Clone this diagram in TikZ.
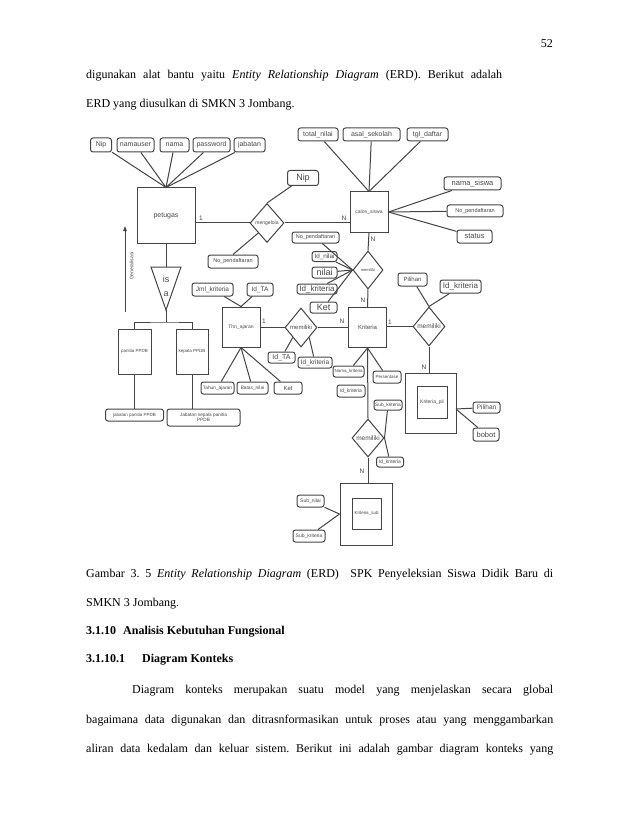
\documentclass[tikz,border=0pt]{standalone}
\usepackage{fontspec}
\setmainfont{Liberation Serif}
\newfontfamily\dg{Liberation Sans}
\usetikzlibrary{shapes.geometric,arrows.meta}
\definecolor{lc}{HTML}{444444}
\definecolor{tc}{HTML}{484848}
\newcommand\fsz[1]{\fontsize{#1}{#1}\selectfont}
\newcommand\bodyfs{\fontsize{12}{14}\selectfont\frenchspacing}
\newcommand\attrnode[6]{\node[attr,minimum width=#4pt,minimum height=#5pt,font={\dg\fsz{#6}}] (#1) at (#2) {#3};}
\tikzset{
  ln/.style={draw=lc, line width=1pt},
  attr/.style={draw=lc, line width=1pt, rounded corners=2.5pt, inner sep=0pt, text=tc, align=center},
  ent/.style={draw=lc, line width=1pt, inner sep=0pt, text=tc, align=center},
  rel/.style={diamond, draw=lc, line width=1pt, inner sep=0pt, text=tc},
  card/.style={inner sep=0pt, text=lc, font={\dg\fsz{6.5}}},
  body/.style={inner sep=0pt, font=\bodyfs, anchor=base west},
}
\begin{document}
\frenchspacing
\begin{tikzpicture}[x=1pt,y=-1pt]
\useasboundingbox (0,0) rectangle (638,826);
\fill[white] (0,0) rectangle (638,826);

% ---------- body text ----------
\node[body,anchor=base east] (pg) at (553,48) {52};
\node[body] (l1) at (86,79) {\makebox[416pt][s]{digunakan alat bantu yaitu \textit{Entity Relationship Diagram} (ERD). Berikut adalah}};
\node[body] (l2) at (86,108) {ERD yang diusulkan di SMKN 3 Jombang.};
\node[body] (c1) at (86,577) {\makebox[467pt][s]{Gambar 3. 5 \textit{Entity Relationship Diagram} (ERD)\ \ SPK Penyeleksian Siswa Didik Baru di}};
\node[body] (c2) at (86,606) {SMKN 3 Jombang.};
\node[body] (h1) at (86,634) {\textbf{3.1.10\hspace{7pt}Analisis Kebutuhan Fungsional}};
\node[body] (h2) at (86,662) {\textbf{3.1.10.1\hspace{17pt}Diagram Konteks}};
\node[body] (p1) at (132,693) {\makebox[421pt][s]{Diagram konteks merupakan suatu model yang menjelaskan secara global}};
\node[body] (p2) at (86,723) {\makebox[467pt][s]{bagaimana data digunakan dan ditrasnformasikan untuk proses atau yang menggambarkan}};
\node[body] (p3) at (86,752) {\makebox[467pt][s]{aliran data kedalam dan keluar sistem. Berikut ini adalah gambar diagram konteks yang}};

% ---------- petugas ----------
\node[ent,minimum width=58pt,minimum height=55pt,font={\dg\fsz{7}}] (pet) at (166,215.5) {petugas};
\attrnode{a1}{101,145}{Nip}{21}{14}{7}
\attrnode{a2}{135.5,145}{namauser}{37}{14}{7}
\attrnode{a3}{174.5,145}{nama}{29}{14}{7}
\attrnode{a4}{211.5,145}{password}{37}{14}{7}
\attrnode{a5}{249.5,145}{jabatan}{31}{14}{7}
\foreach \a in {a1,a2,a3,a4,a5} \draw[ln] (\a) -- (pet.north);

% ---------- mengelola ----------
\node[rel,minimum width=34pt,minimum height=39pt,font={\dg\fsz{5}}] (mg) at (267,223) {mengelola};
\attrnode{nip2}{303,178}{Nip}{31}{15}{9}
\attrnode{np1}{233,261.5}{No\_pendaftaran}{50}{13}{5.5}
\draw[ln] (mg.north) -- (nip2);
\draw[ln] (mg.south west) -- (np1.north);

% ---------- calon_siswa ----------
\node[ent,minimum width=38pt,minimum height=40pt,font={\dg\fsz{5}}] (cs) at (369,212) {calon\_siswa};
\attrnode{tn}{318,134.5}{total\_nilai}{40}{13}{7}
\attrnode{as}{371.5,134.5}{asal\_sekolah}{57}{13}{7}
\attrnode{tg}{427.5,134.5}{tgl\_daftar}{41}{13}{7}
\foreach \a in {tn,as,tg} \draw[ln] (\a) -- (cs.north);
\attrnode{ns}{472.5,183.5}{nama\_siswa}{57}{13}{7.5}
\attrnode{np2}{475,211}{No\_pendaftaran}{56}{12}{5.5}
\attrnode{st}{474.5,236.5}{status}{35}{13}{7.5}
\foreach \a in {ns,np2,st} \draw[ln] (cs.east) -- (\a);

\draw[ln] (pet.east |- mg.west) -- (mg.west);
\draw[ln] (mg.east) -- (cs.west |- mg.east);
\node[card] (c1a) at (201,218) {1};
\node[card] (c1b) at (344,218) {N};

% ---------- memiliki 1 ----------
\node[rel,minimum width=30pt,minimum height=38pt,font={\dg\fsz{4}}] (m1) at (368,270) {memiliki};
\attrnode{np3}{315.5,237.5}{No\_pendaftaran}{47}{11}{5.5}
\attrnode{idn}{324.5,256.5}{Id\_nilai}{25}{10}{6.3}
\attrnode{nil}{324.5,272.5}{nilai}{25}{11}{9}
\attrnode{idk1}{317,289}{Id\_kriteria}{40}{10}{8}
\attrnode{ket1}{323.5,307.5}{Ket}{27}{11}{9}
\foreach \a in {np3,idn,nil,idk1,ket1} \draw[ln] (\a) -- (m1.west);
\draw[ln] (cs.south) -- (m1.north);
\node[card] (c2a) at (373,239) {N};

% ---------- Kriteria ----------
\node[ent,minimum width=38pt,minimum height=40pt,font={\dg\fsz{6}}] (kr) at (367.5,327.5) {Kriteria};
\draw[ln] (m1.south) -- (kr.north);
\node[card] (c2b) at (363,300) {N};

% ---------- Thn_ajaran ----------
\node[ent,minimum width=38pt,minimum height=40pt,font={\dg\fsz{5}}] (ta) at (241,327) {Thn\_ajaran};
\attrnode{jk}{212.5,289.5}{Jml\_kriteria}{41}{13}{6.5}
\attrnode{ita}{260,289.5}{Id\_TA}{26}{13}{6.5}
\foreach \a in {jk,ita} \draw[ln] (\a) -- (ta.north);
\attrnode{thn}{217.5,388}{Tahun\_ajaran}{33}{12}{4.8}
\attrnode{bn}{252.5,388}{Batas\_nilai}{31}{12}{4.8}
\attrnode{ket2}{288,388}{Ket}{28}{12}{6}
\foreach \a in {thn,bn,ket2} \draw[ln] (\a) -- (ta.south);

% ---------- memiliki 2 ----------
\node[rel,minimum width=32pt,minimum height=39pt,font={\dg\fsz{6}}] (m2) at (301,327.5) {memiliki};
\attrnode{ita2}{281.5,357.5}{Id\_TA}{27}{11}{7}
\attrnode{idk2}{315,362.5}{Id\_kriteria}{34}{11}{6.5}
\draw[ln] (m2.south west) -- (ita2);
\draw[ln] (m2.south east) -- (idk2);
\draw[ln] (ta.east |- m2.west) -- (m2.west);
\draw[ln] (m2.east) -- (kr.west |- m2.east);
\node[card] (c3a) at (264,321) {1};
\node[card] (c3b) at (342,321) {N};

% ---------- Kriteria attributes ----------
\attrnode{nk}{348.5,371.5}{Nama\_kriteria}{31}{11}{4.5}
\attrnode{idk3}{351,391}{Id\_kriteria}{28}{12}{5}
\attrnode{per}{387,377}{Persentase}{28}{12}{4.5}
\attrnode{sk1}{388,405}{Sub\_kriteria}{28}{10}{4.8}
\draw[ln] (kr.south) -- (nk);
\draw[ln] (kr.south) -- (per);

% ---------- memiliki 3 ----------
\node[rel,minimum width=32pt,minimum height=38pt,font={\dg\fsz{6.5}}] (m3) at (368,438) {memiliki};
\attrnode{idk4}{390,462}{Id\_kriteria}{27}{10}{5}
\draw[ln] (kr.south) -- (m3.north);
\draw[ln] (sk1) -- (m3.east);
\draw[ln] (m3.east) -- (idk4);

% ---------- Kriteria_sub ----------
\node[ent,minimum width=52pt,minimum height=62pt] (ks) at (366,514) {};
\node[ent,minimum width=29pt,minimum height=31pt,font={\dg\fsz{4.5}}] (ksi) at (366.5,513.5) {Kriteria\_sub};
\attrnode{sn}{310.5,501}{Sub\_nilai}{27}{12}{5}
\attrnode{sk2}{309,536}{Sub\_kriteria}{32}{12}{5}
\foreach \a in {sn,sk2} \draw[ln] (\a) -- (ks.west);
\draw[ln] (m3.south) -- (m3.south |- ks.north);
\node[card] (c5) at (362,471) {N};

% ---------- memiliki 4 ----------
\node[rel,minimum width=32pt,minimum height=39pt,font={\dg\fsz{6.5}}] (m4) at (429,326.5) {memiliki};
\attrnode{pl1}{412.5,279.5}{Pilihan}{29}{13}{6}
\attrnode{idk5}{460.5,286.5}{Id\_kriteria}{41}{13}{8}
\draw[ln] (m4.north) -- (pl1);
\draw[ln] (m4.north) -- (idk5);
\draw[ln] (kr.east |- m4.west) -- (m4.west);
\node[card] (c4a) at (390,322) {1};

% ---------- Kriteria_pil ----------
\node[ent,minimum width=51pt,minimum height=60pt] (kp) at (430.5,403) {};
\node[ent,minimum width=30pt,minimum height=32pt,font={\dg\fsz{5}}] (kpi) at (432,402) {Kriteria\_pil};
\draw[ln] (m4.south) -- (m4.south |- kp.north);
\node[card] (c4b) at (424,367) {N};
\coordinate (kpe) at (456,409);
\attrnode{pl2}{486.5,407.5}{Pilihan}{27}{11}{6.5}
\attrnode{bb}{486,434.5}{bobot}{26}{13}{7.5}
\draw[ln] (kpe) -- (pl2);
\draw[ln] (kpe) -- (bb);

% ---------- generalisation ----------
\coordinate (isaL) at (151,267);
\coordinate (isaR) at (181,267);
\coordinate (isaA) at (166,310);
\coordinate (isaT) at (166,267);
\draw[ln] (isaL) -- (isaR) -- (isaA) -- cycle;
\node[inner sep=0pt,text=tc,font={\dg\fsz{9}}] (is) at (166,279) {is};
\node[inner sep=0pt,text=tc,font={\dg\fsz{9}}] (isa) at (166,294) {a};
\draw[ln] (pet.south) -- (isaT);
\node[ent,minimum width=33pt,minimum height=45pt,font={\dg\fsz{4.5}}] (pan) at (134.5,351.5) {panitia PPDB};
\node[ent,minimum width=32pt,minimum height=45pt,font={\dg\fsz{4.5}}] (kep) at (192,351.5) {kepala PPDB};
\coordinate (bar) at (166,322);
\draw[ln] (isaA) -- (bar);
\draw[ln] (pan.north) |- (bar) -| (kep.north);
\attrnode{jp}{134.5,415}{jabatan panitia PPDB}{58}{12}{4.5}
\node[attr,minimum width=73pt,minimum height=17pt,font={\dg\fsz{4.7}}] (jkp) at (203.5,417.5) {Jabatan kepala panitia\\PPDB};
\draw[ln] (pan.south) -- (jp.north);
\draw[ln] (kep.south) -- (kep.south |- jkp.north);

\coordinate (g1) at (125,312);
\coordinate (g2) at (125,226);
\draw[ln,-{Triangle[length=5pt,width=3.5pt]}] (g1) -- (g2);
\node[inner sep=0pt,text=tc,font={\dg\fsz{5}},rotate=90] (gen) at (131.5,266) {Generalisasi};
\end{tikzpicture}
\end{document}
